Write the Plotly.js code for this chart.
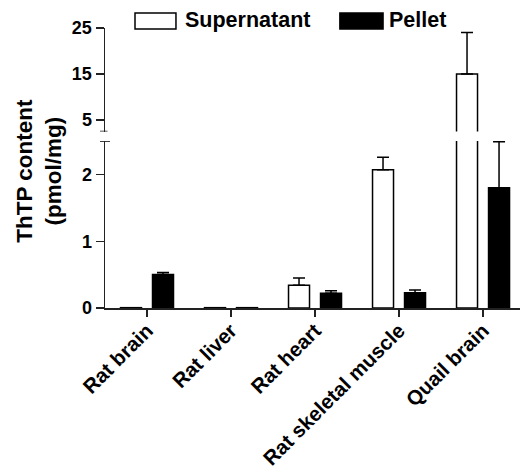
<!DOCTYPE html>
<html>
<head>
<meta charset="utf-8">
<script src="https://cdn.plot.ly/plotly-3.0.1.min.js"></script>
<style>
  html, body { margin: 0; padding: 0; background: #fff; }
  #chart { width: 524px; height: 476px; }
</style>
</head>
<body>
<div id="chart"></div>
<script>
// ---- data ----
var categories = ['Rat brain', 'Rat liver', 'Rat heart', 'Rat skeletal muscle', 'Quail brain'];
var supernatant = [0.005, 0.005, 0.34, 2.07, 15];
var supernatantErr = [0, 0, 0.11, 0.19, 9];
var pellet = [0.50, 0.005, 0.22, 0.23, 1.80];
var pelletErr = [0.03, 0, 0.04, 0.04, 0.69];
var seriesNames = ['Supernatant', 'Pellet'];
var lowerTicks = [0, 1, 2];
var upperTicks = [5, 15, 25];
var lowerRange = [0, 2.5];
var upperRange = [2.5, 25];

// ---- styles ----
var FONT = 'Liberation Sans, Arial, sans-serif';
var zeros = categories.map(function () { return 0; });

function barTrace(name, y, err, fill, yaxis, showErr) {
  return {
    type: 'bar',
    name: name,
    x: categories,
    y: y,
    yaxis: yaxis,
    showlegend: false,
    marker: { color: fill, line: { color: '#000', width: 1.5 } },
    error_y: {
      visible: showErr,
      type: 'data', symmetric: false, array: err, arrayminus: zeros,
      color: '#000', thickness: 1.5, width: 6
    },
    hoverinfo: 'x+y'
  };
}

var traces = [
  barTrace(seriesNames[0], supernatant, supernatantErr, '#fff', 'y', true),
  barTrace(seriesNames[1], pellet, pelletErr, '#000', 'y', true),
  barTrace(seriesNames[0], supernatant, supernatantErr, '#fff', 'y2', true),
  barTrace(seriesNames[1], pellet, pelletErr, '#000', 'y2', false)
];

var axisCommon = {
  showline: true, linecolor: '#222', linewidth: 1.5,
  ticks: 'outside', ticklen: 8, tickwidth: 1.5, tickcolor: '#222',
  showgrid: false, zeroline: false, fixedrange: true,
  tickfont: { family: FONT, size: 18, color: '#000', weight: 'bold' }
};

var layout = {
  width: 524, height: 476,
  margin: { l: 105, r: 4, t: 28, b: 168 },
  paper_bgcolor: '#fff', plot_bgcolor: 'rgba(0,0,0,0)',
  barmode: 'group', bargap: 0.238, bargroupgap: 0.344,
  showlegend: false,
  xaxis: Object.assign({}, axisCommon, {
    type: 'category',
    range: [-0.5, 4.44],
    ticklen: 7,
    tickangle: -45,
    ticklabelstandoff: -6,
    tickfont: { family: FONT, size: 20.5, color: '#000', weight: 'bold' }
  }),
  yaxis: Object.assign({}, axisCommon, {
    domain: [0, 0.596],
    range: lowerRange,
    tickvals: lowerTicks,
    anchor: 'x'
  }),
  yaxis2: Object.assign({}, axisCommon, {
    domain: [0.630, 1],
    range: upperRange,
    tickvals: upperTicks,
    anchor: 'x'
  }),
  shapes: [
    // axis break marks
    { type: 'line', xref: 'x domain', yref: 'y2', x0: -0.012, x1: 0.006, y0: upperRange[0], y1: upperRange[0], line: { color: '#222', width: 1.5 } },
    { type: 'line', xref: 'x domain', yref: 'y', x0: -0.012, x1: 0.012, y0: lowerRange[1], y1: lowerRange[1], line: { color: '#222', width: 1.5 } },
    // legend swatches
    { type: 'rect', xref: 'paper', yref: 'paper', x0: 0.0723, x1: 0.171, y0: 0.996, y1: 1.054, fillcolor: '#fff', line: { color: '#000', width: 1.5 } },
    { type: 'rect', xref: 'paper', yref: 'paper', x0: 0.566, x1: 0.670, y0: 0.996, y1: 1.054, fillcolor: '#000', line: { color: '#000', width: 1.5 } }
  ],
  annotations: [
    { xref: 'paper', yref: 'paper', x: 0.188, y: 1.027, xanchor: 'left', yanchor: 'middle', showarrow: false,
      text: seriesNames[0], font: { family: FONT, size: 21.5, color: '#000', weight: 'bold' } },
    { xref: 'paper', yref: 'paper', x: 0.680, y: 1.027, xanchor: 'left', yanchor: 'middle', showarrow: false,
      text: seriesNames[1], font: { family: FONT, size: 21.5, color: '#000', weight: 'bold' } },
    { xref: 'paper', yref: 'paper', x: -0.159, y: 0.49, xanchor: 'center', yanchor: 'middle', showarrow: false,
      textangle: -90, text: 'ThTP content<br>(pmol/mg)',
      font: { family: FONT, size: 22.5, color: '#000', weight: 'bold' } }
  ]
};

Plotly.newPlot('chart', traces, layout, { displayModeBar: false, staticPlot: true });
</script>
</body>
</html>
